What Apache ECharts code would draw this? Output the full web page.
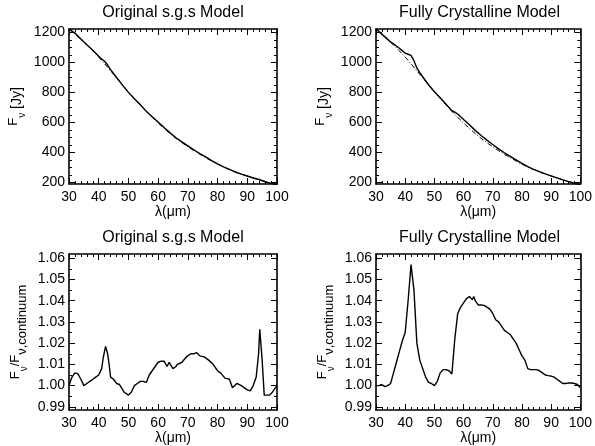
<!DOCTYPE html>
<html><head><meta charset="utf-8">
<script src="https://cdn.jsdelivr.net/npm/echarts@6/dist/echarts.min.js"></script>
<style>html,body{margin:0;padding:0;background:#fff}#c{width:595px;height:446px}</style>
</head><body><div id="c"></div>
<script>
// ---------- data ----------
const contWave = [30,32,34,36,38,40,42,44,46,48,50,52,54,56,58,60,62,64,66,68,70,72,74,76,78,80,82,84,86,88,90,92,94,96,98,100];
const contFlux = [1222,1188,1153,1116,1077,1035,990,944,897,850,804,759,716,674,634,596,560,526,494,465,438,412,388,365,343,322,303,286,270,256,243,230,218,206,195,184];

const modelWaveL = [30,32,34,36,38,40,41,42,43,44,46,48,50,52,54,56,58,60,62,64,66,68,70,72,74,76,78,80,82,84,86,88,90,92,94,96,98,100];
const modelFluxL = [1222,1195,1155,1117,1080,1040,1021,1007,982,952,899,848,800,758,717,675,638,603,566,531,498,470,444,418,393,370,346,324,304,287,270,256,243,230,220,205,194,184];

const modelWaveR = [30,32,34,35,36,37,38,39,40,41,42,43,44,45,46,48,50,52,54,56,57,58,60,62,64,66,68,70,72,74,76,78,80,82,84,86,88,90,92,94,96,98,100];
const modelFluxR = [1222,1188,1153,1136,1123,1109,1094,1078,1061,1054,1046,1011,963,932,904,851,804,764,721,678,668,656,619,584,547,513,482,453,424,398,374,350,327,305,288,272,257,244,231,218,206,195,184];

const ratioWaveL = [30,31,32,33,34,35,36,37,38,39,40,40.5,41,41.5,42.3,43,43.5,44,45,46,47,48.5,50,51,52,53,54,55,56,57,58,59,60,61,62,63,63.7,64.3,65,66,66.5,68,69.5,71,72,73,74,75.5,77,78.5,80,81,82.5,84,85,86.5,88,90,91,92,93,93.8,94.2,95,95.7,96.5,97.5,98.5,99.5,100];
const ratioL = [1.000,1.004,1.006,1.0055,1.003,1.000,1.001,1.002,1.003,1.004,1.005,1.0055,1.008,1.013,1.0185,1.015,1.010,1.004,1.003,1.001,1.0005,0.997,0.9955,0.997,1.000,1.001,1.002,1.002,1.0015,1.005,1.007,1.009,1.011,1.0115,1.0115,1.009,1.011,1.0095,1.008,1.009,1.010,1.011,1.0135,1.015,1.015,1.0155,1.014,1.0135,1.012,1.010,1.007,1.006,1.0035,1.003,0.999,1.001,1.000,0.998,0.9975,1.000,1.004,1.015,1.0265,1.012,0.9955,0.9955,0.9955,0.997,0.999,1.000];

const ratioWaveR = [30,31,32,33,34,35,36,37,38,39,40,41,42,43,44,45,46,47,48,49,50,51,52,53,54,55,56,57,58,59,60,61,62,63,63.5,64,65,66,67,68,69,70,71,72,73,74,75,76,77,78,79,80,81,82,83,84,85,86,87,88,89,90,91,92,93,94,95,96,97,98,99,100];
const ratioR = [1.000,1.000,1.0005,0.9995,1.000,1.001,1.006,1.011,1.016,1.021,1.025,1.040,1.057,1.045,1.020,1.012,1.008,1.004,1.0015,1.001,1.000,1.002,1.006,1.0075,1.0075,1.007,1.0055,1.022,1.034,1.037,1.039,1.041,1.042,1.0405,1.042,1.040,1.038,1.038,1.0378,1.037,1.036,1.034,1.031,1.030,1.028,1.026,1.025,1.024,1.022,1.020,1.017,1.014,1.012,1.008,1.0075,1.0075,1.0075,1.007,1.006,1.005,1.0047,1.0045,1.004,1.003,1.002,1.001,1.001,1.0013,1.0012,1.001,1.0005,0.999];

const xTicks = [30,40,50,60,70,80,90,100];
const fluxTicks = [200,400,600,800,1000,1200];
const fluxMinor = [200,250,300,350,400,450,500,550,600,650,700,750,800,850,900,950,1000,1050,1100,1150,1200];
const ratioTicks = [0.99,1.00,1.01,1.02,1.03,1.04,1.05,1.06];
const ratioMinor = [0.99,0.995,1.00,1.005,1.01,1.015,1.02,1.025,1.03,1.035,1.04,1.045,1.05,1.055,1.06];
const titles = ['Original s.g.s Model','Fully Crystalline Model','Original s.g.s Model','Fully Crystalline Model'];
const fluxRange = [190, 1222];
const ratioRange = [0.9885, 1.062];

// ---------- layout ----------
const FONT = 'Liberation Sans, Arial, sans-serif';
const grids = [
  {left:69, top:29, width:208, height:155},
  {left:376, top:29, width:207, height:155},
  {left:69, top:254, width:208, height:156},
  {left:376, top:254, width:207, height:156}
];
const zip = (a,b) => a.map((v,i)=>[v,b[i]]);
const black = '#000';

function makeX(gi){
  const base = {type:'value', gridIndex:gi, min:30, max:100, interval:10,
    splitLine:{show:false}, minorSplitLine:{show:false},
    axisLine:{show:true, onZero:false, lineStyle:{color:black, width:1.6}},
    axisTick:{show:true, inside:true, length:6, lineStyle:{color:black, width:1}},
    minorTick:{show:true, splitNumber:5, length:3, lineStyle:{color:black, width:1}}};
  return [
    Object.assign({}, base, {position:'bottom',
      axisLabel:{show:true, color:black, fontSize:14, margin:6, fontFamily:FONT},
      name:'λ(μm)', nameLocation:'middle', nameGap:21,
      nameTextStyle:{color:black, fontSize:14, fontFamily:FONT}}),
    Object.assign({}, base, {position:'top', axisLabel:{show:false}})
  ];
}
function makeY(gi, range, majors, minors, fmt, name, nameGap){
  const common = {type:'value', gridIndex:gi, min:range[0], max:range[1], splitLine:{show:false}};
  const major = (pos, lab) => Object.assign({}, common, {position:pos,
    axisLine:{show:true, onZero:false, lineStyle:{color:black, width:1.6}},
    axisTick:{show:true, inside:true, length:6, customValues:majors, lineStyle:{color:black, width:1}},
    axisLabel: lab ? {show:true, customValues:majors, formatter:fmt, color:black, fontSize:14, margin:4, fontFamily:FONT} : {show:false}});
  const minor = (pos) => Object.assign({}, common, {position:pos,
    axisLine:{show:false},
    axisTick:{show:true, inside:true, length:3, customValues:minors, lineStyle:{color:black, width:1}},
    axisLabel:{show:false}});
  const left = major('left', true);
  Object.assign(left, {name:name, nameLocation:'middle', nameRotate:90, nameGap:nameGap,
    nameTextStyle:{color:black, fontFamily:FONT, rich:{
      a:{fontSize:13, color:black, fontFamily:FONT, verticalAlign:'top', lineHeight:20},
      b:{fontSize:10, color:black, fontFamily:FONT, verticalAlign:'bottom', lineHeight:20},
      c:{fontSize:13, color:black, fontFamily:FONT, verticalAlign:'bottom', lineHeight:20},
      n:{fontSize:14, color:black, fontFamily:FONT, verticalAlign:'middle', lineHeight:20}
    }}});
  return [left, minor('left'), major('right', false), minor('right')];
}

const xAxis = [].concat(makeX(0), makeX(1), makeX(2), makeX(3));
const fluxFmt = v => String(Math.round(v));
const ratioFmt = v => v.toFixed(2);
const yAxis = [].concat(
  makeY(0, fluxRange, fluxTicks, fluxMinor, fluxFmt, '{a|F}{b|ν}{n| [Jy]}', 42),
  makeY(1, fluxRange, fluxTicks, fluxMinor, fluxFmt, '{a|F}{b|ν}{n| [Jy]}', 42),
  makeY(2, ratioRange, ratioTicks, ratioMinor, ratioFmt, '{a|F}{b|ν}{a|/F}{c|ν,continuum}', 40),
  makeY(3, ratioRange, ratioTicks, ratioMinor, ratioFmt, '{a|F}{b|ν}{a|/F}{c|ν,continuum}', 40)
);

function line(gi, data, dashed){
  return {type:'line', xAxisIndex:gi*2, yAxisIndex:gi*4, data:data, showSymbol:false, symbol:'none',
    clip:true, animation:false, silent:true,
    lineStyle:{color:black, width:dashed?1:1.4, type: dashed ? [5,2,1,2] : 'solid'}};
}
const series = [
  line(0, zip(contWave, contFlux), true),
  line(0, zip(modelWaveL, modelFluxL), false),
  line(1, zip(contWave, contFlux), true),
  line(1, zip(modelWaveR, modelFluxR), false),
  line(2, zip(ratioWaveL, ratioL), false),
  line(3, zip(ratioWaveR, ratioR), false)
];

const graphic = grids.map((g,i)=>({type:'text', x:g.left + g.width/2, y: g.top - 16,
  style:{text:titles[i], fill:black, font:'16px ' + FONT, textAlign:'center', textVerticalAlign:'middle'}}));

const chart = echarts.init(document.getElementById('c'), null, {renderer:'canvas'});
chart.setOption({backgroundColor:'#fff', animation:false, grid:grids, xAxis, yAxis, series, graphic});
</script></body></html>
